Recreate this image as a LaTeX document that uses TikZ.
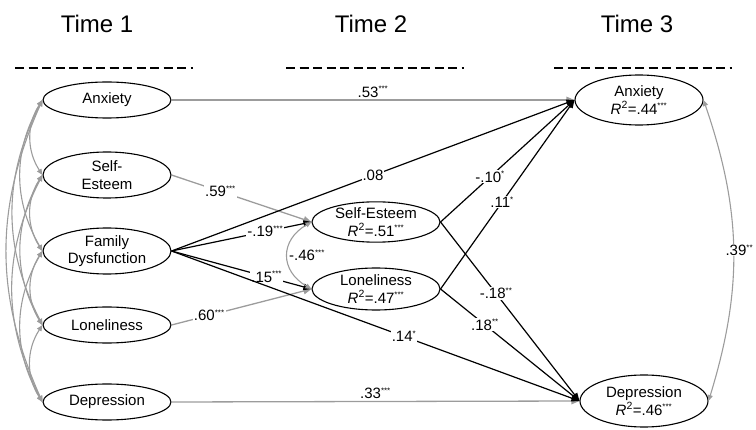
\documentclass[tikz,border=0pt]{standalone}
\usepackage{fontspec}
\setmainfont{Liberation Sans}
\usetikzlibrary{shapes.geometric,arrows.meta}
\definecolor{lg}{HTML}{9C9C9C}
\newcommand{\sig}[1]{\textsuperscript{\fontsize{8}{8}\selectfont #1}}
\newcommand{\rsq}{\textit{R}\textsuperscript{2}}
\begin{document}
\begin{tikzpicture}[x=1pt,y=1pt,
  ell/.style={draw=black, line width=1.1pt, ellipse, inner sep=0pt, minimum width=128pt, align=center, font=\fontsize{15}{17.5}\selectfont},
  ttl/.style={font=\fontsize{24}{28}\selectfont},
  grayarr/.style={draw=lg, line width=1.3pt, -{Triangle[length=8pt,width=6.5pt]}, color=lg},
  blackarr/.style={draw=black, line width=1.2pt, -{Triangle[length=8pt,width=6.5pt]}},
  covT/.style={draw=lg, line width=1.1pt, color=lg, {Triangle[length=6pt,width=5pt]}-{Triangle[length=6pt,width=5pt]}},
  lbl/.style={font=\fontsize{15}{17}\selectfont, fill=white, inner sep=1pt, text=black},
  lbln/.style={font=\fontsize{15}{17}\selectfont, inner sep=2pt, text=black},
  dashrule/.style={line width=1.8pt, dash pattern=on 9pt off 4.5pt},
]
\useasboundingbox (0,0) rectangle (756,429);

% titles
\node[ttl] (t1) at (97,405) {Time 1};
\node[ttl] (t2) at (371,405) {Time 2};
\node[ttl] (t3) at (637,405) {Time 3};
\coordinate (d1a) at (15,361); \coordinate (d1b) at (193,361);
\coordinate (d2a) at (286,361); \coordinate (d2b) at (464,361);
\coordinate (d3a) at (554,361); \coordinate (d3b) at (732,361);
\draw[dashrule] (d1a) -- (d1b);
\draw[dashrule] (d2a) -- (d2b);
\draw[dashrule] (d3a) -- (d3b);

% Time 1
\node[ell, minimum height=36pt] (anxA) at (107,329) {Anxiety};
\node[ell, minimum height=46pt] (seA) at (107,254) {Self-\\Esteem};
\node[ell, minimum height=46pt] (fdA) at (107,178) {Family\\Dysfunction};
\node[ell, minimum height=36pt] (loA) at (107,104) {Loneliness};
\node[ell, minimum height=36pt] (deA) at (107,27) {Depression};

% Time 2
\node[ell, minimum height=40pt] (seB) at (376,207) {Self-Esteem\\\rsq=.51\sig{***}};
\node[ell, minimum height=42pt] (loB) at (376,140) {Loneliness\\\rsq=.47\sig{***}};

% Time 3
\node[ell, minimum height=50pt] (anxC) at (639,329) {Anxiety\\\rsq=.44\sig{***}};
\node[ell, minimum height=52pt] (deC) at (644,28) {Depression\\\rsq=.46\sig{***}};

% Time 1 covariances
\draw[covT] (anxA.west) to[bend right=33] (seA.west);
\draw[covT] (seA.west) to[bend right=33] (fdA.west);
\draw[covT] (fdA.west) to[bend right=33] (loA.west);
\draw[covT] (loA.west) to[bend right=33] (deA.west);
\draw[covT] (anxA.west) to[bend right=30] (fdA.west);
\draw[covT] (seA.west) to[bend right=30] (loA.west);
\draw[covT] (fdA.west) to[bend right=30] (deA.west);
\draw[covT] (anxA.west) to[bend right=27] (loA.west);
\draw[covT] (seA.west) to[bend right=27] (deA.west);
\draw[covT] (anxA.west) to[bend right=24] (deA.west);

% stability paths
\draw[grayarr] (anxA.east) -- node[lbln, above]{.53\sig{***}} (anxC.west);
\draw[grayarr] (deA.east) -- node[lbln, above]{.33\sig{***}} (deC.west);
\draw[grayarr] (seA.east) -- node[lbl, pos=0.35]{.59\sig{***}} (seB.west);
\draw[grayarr] (loA.east) -- node[lbl, pos=0.27]{.60\sig{***}} (loB.west);

% family dysfunction paths
\draw[blackarr] (fdA.east) -- node[lbl, pos=0.5]{.08} (anxC.west);
\draw[blackarr] (fdA.east) -- node[lbl, pos=0.67]{-.19\sig{***}} (seB.west);
\draw[blackarr] (fdA.east) -- node[lbl, pos=0.68]{.15\sig{***}} (loB.west);
\draw[blackarr] (fdA.east) -- node[lbl, pos=0.57]{.14\sig{*}} (deC.west);

% mediator paths
\draw[blackarr] (seB.east) -- node[lbl, pos=0.37]{-.10\sig{*}} (anxC.west);
\draw[blackarr] (loB.east) -- node[lbl, pos=0.46]{.11\sig{*}} (anxC.west);
\draw[blackarr] (seB.east) -- node[lbl, pos=0.40]{-.18\sig{**}} (deC.west);
\draw[blackarr] (loB.east) -- node[lbl, pos=0.32]{.18\sig{**}} (deC.west);

% covariances
\draw[covT] (seB.west) to[bend right=60, looseness=1.4] node[lbl, anchor=west, pos=0.5]{-.46\sig{***}} (loB.west);
\draw[covT] (anxC.east) to[bend left=18] node[lbl, pos=0.5, xshift=6pt]{.39\sig{**}} (deC.east);
\end{tikzpicture}
\end{document}
